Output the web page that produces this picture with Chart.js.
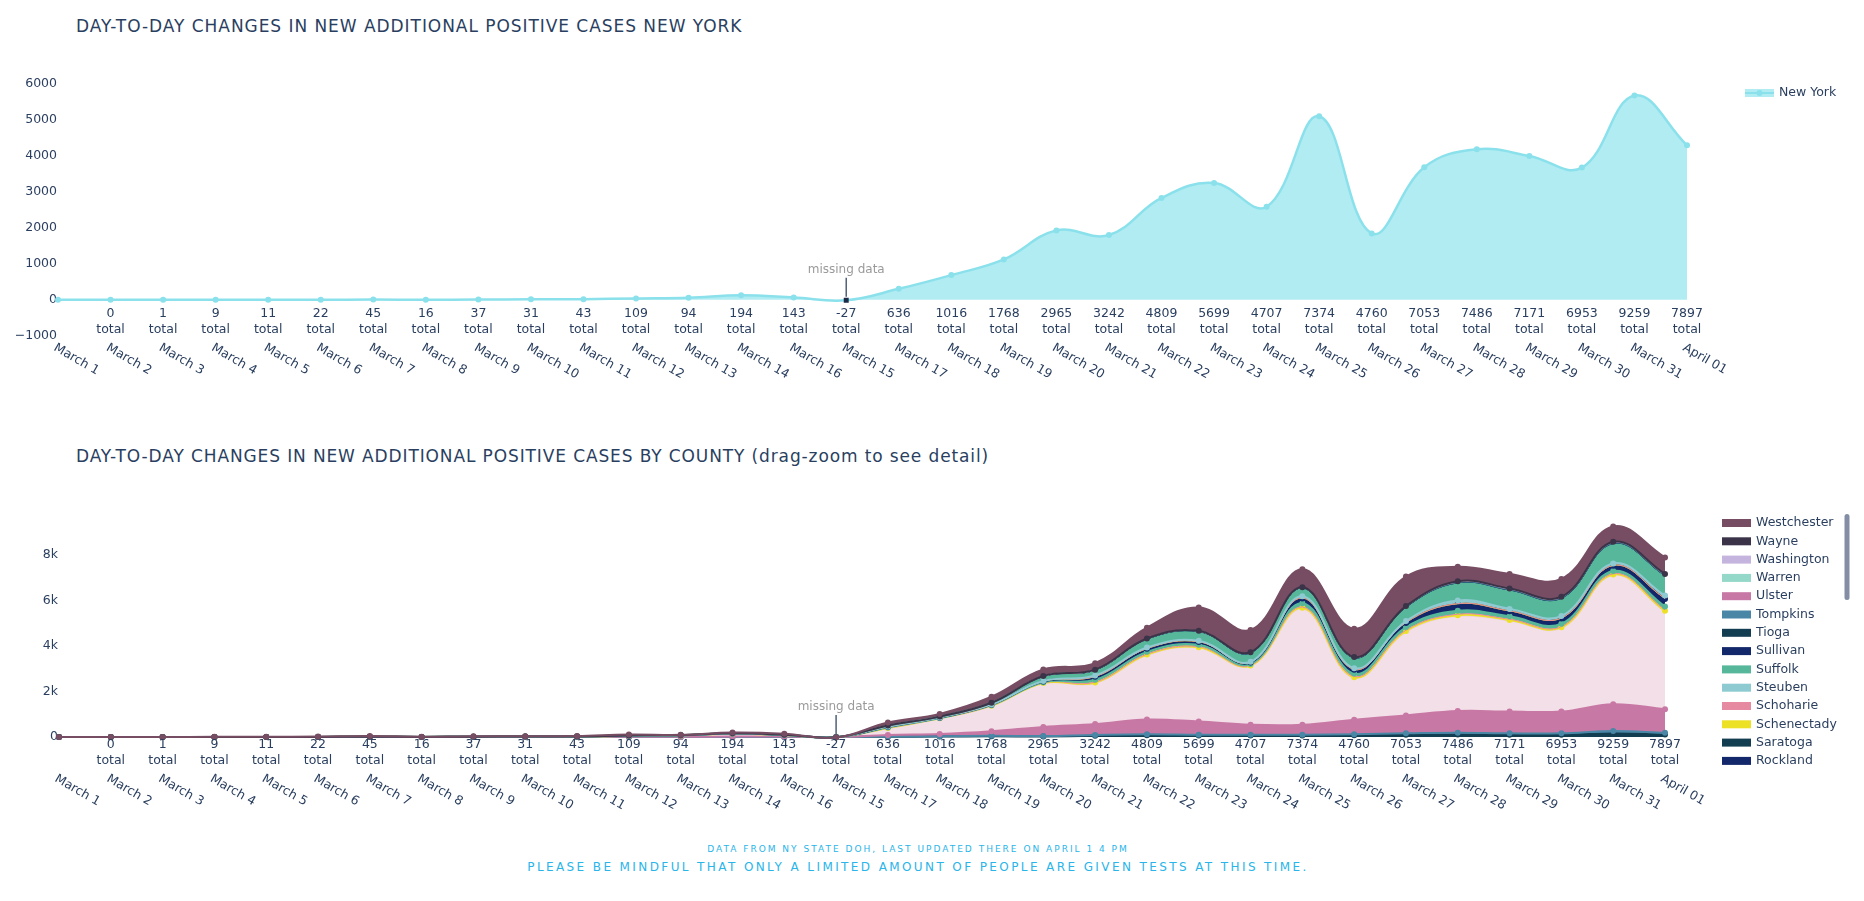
<!DOCTYPE html>
<html>
<head>
<meta charset="utf-8">
<title>NY positive cases</title>
<script src="https://cdn.jsdelivr.net/npm/chart.js@4.4.1/dist/chart.umd.min.js"></script>
<style>
  body { margin: 0; background: #fff; width: 1864px; height: 901px; overflow: hidden; position: relative;
         font-family: "DejaVu Sans", Verdana, sans-serif; }
  .box { position: absolute; left: 0; width: 1864px; }
  .title { position: absolute; left: 76px; font-size: 17px; line-height: 20px; color: #2a3f5f;
           letter-spacing: 0.95px; white-space: nowrap; }
  .note { position: absolute; left: 0; width: 1836px; text-align: center; color: #29b5e9; white-space: nowrap; }
</style>
</head>
<body>
<div class="title" style="top:16px">DAY-TO-DAY CHANGES IN NEW ADDITIONAL POSITIVE CASES NEW YORK</div>
<div class="box" style="top:0;height:400px"><canvas id="nyChart"></canvas></div>
<div class="title" style="top:446px;letter-spacing:0.88px">DAY-TO-DAY CHANGES IN NEW ADDITIONAL POSITIVE CASES BY COUNTY (drag-zoom to see detail)</div>
<div class="box" style="top:420px;height:420px"><canvas id="countyChart"></canvas></div>
<div class="note" style="top:844px;font-size:9px;line-height:11px;letter-spacing:2px">DATA FROM NY STATE DOH, LAST UPDATED THERE ON APRIL 1 4 PM</div>
<div class="note" style="top:860px;font-size:12px;line-height:15px;letter-spacing:2.4px">PLEASE BE MINDFUL THAT ONLY A LIMITED AMOUNT OF PEOPLE ARE GIVEN TESTS AT THIS TIME.</div>

<script>
'use strict';

var days = ['March 1', 'March 2', 'March 3', 'March 4', 'March 5', 'March 6', 'March 7', 'March 8',
            'March 9', 'March 10', 'March 11', 'March 12', 'March 13', 'March 14', 'March 16', 'March 15',
            'March 17', 'March 18', 'March 19', 'March 20', 'March 21', 'March 22', 'March 23', 'March 24',
            'March 25', 'March 26', 'March 27', 'March 28', 'March 29', 'March 30', 'March 31', 'April 01'];
// state wide totals printed under each day (none under the first one)
var totals = [null, 0, 1, 9, 11, 22, 45, 16, 37, 31, 43, 109, 94, 194, 143, -27,
              636, 1016, 1768, 2965, 3242, 4809, 5699, 4707, 7374, 4760, 7053, 7486, 7171, 6953, 9259, 7897];
var missingDay = 'March 15';

var nyTicks = [-1000, 0, 1000, 2000, 3000, 4000, 5000, 6000];
var countyTicks = [0, 2000, 4000, 6000, 8000];

var newYork = [1, 0, 1, 0, 1, 2, 7, 1, 8, 16, 17, 40, 60, 125, 65, -12,
               306, 688, 1123, 1931, 1802, 2833, 3250, 2590, 5106, 1847, 3686, 4187, 4002, 3677, 5682, 4298];

var erie        = [0, 0, 0, 0, 0, 0, 0, 0, 0, 0, 0, 2, 1, 2, 2, 0, 12, 18, 30, 24, 54, 72, 60, 60, 60, 72, 96, 114, 96, 96, 156, 114];
var monroe      = [0, 0, 0, 0, 0, 0, 0, 0, 0, 0, 0, 1, 1, 2, 2, 0, 8, 12, 20, 16, 36, 48, 40, 40, 40, 48, 64, 76, 64, 64, 104, 76];
var nassau      = [0, 0, 0, 1, 1, 2, 3, 2, 3, 2, 2, 12, 8, 14, 14, 0, 70, 100, 200, 400, 480, 650, 580, 440, 440, 640, 790, 950, 960, 960, 1180, 1030];
var niagara     = [0, 0, 0, 0, 0, 0, 0, 0, 0, 0, 0, 0, 0, 0, 1, 0, 3, 2, 4, 5, 20, 20, 18, 11, 32, 25, 28, 30, 25, 25, 25, 30];
var onondaga    = [0, 0, 0, 0, 0, 0, 0, 0, 0, 0, 0, 0, 0, 1, 1, 0, 4, 3, 4, 6, 23, 23, 21, 13, 38, 29, 32, 40, 30, 30, 30, 40];
var orange      = [0, 0, 0, 0, 0, 0, 0, 0, 1, 0, 1, 2, 2, 4, 4, 0, 18, 12, 18, 27, 99, 99, 90, 54, 162, 126, 138, 150, 130, 130, 120, 150];
var rockland    = [0, 0, 0, 0, 0, 0, 1, 0, 1, 1, 2, 3, 2, 4, 5, 0, 24, 16, 24, 36, 132, 132, 120, 72, 216, 168, 184, 290, 220, 230, 230, 330];
var saratoga    = [0, 0, 0, 0, 0, 0, 0, 0, 1, 0, 1, 1, 1, 1, 0, 0, 2, 1, 2, 3, 7, 7, 6, 4, 11, 8, 9, 12, 9, 9, 9, 12];
var schenectady = [0, 0, 0, 0, 0, 0, 0, 0, 0, 0, 0, 1, 1, 0, 1, 0, 1, 1, 1, 2, 7, 7, 6, 4, 11, 8, 9, 12, 9, 9, 9, 12];
var schoharie   = [0, 0, 0, 0, 0, 0, 0, 0, 0, 0, 0, 0, 0, 0, 0, 0, 0, 0, 0, 0, 1, 1, 1, 0, 2, 1, 2, 2, 2, 2, 2, 2];
var steuben     = [0, 0, 0, 0, 0, 0, 0, 0, 0, 0, 0, 0, 0, 0, 0, 0, 8, 5, 7, 11, 41, 41, 38, 22, 68, 55, 58, 144, 85, 85, 85, 124];
var suffolk     = [0, 0, 0, 0, 0, 0, 0, 1, 1, 1, 2, 6, 4, 8, 7, 0, 44, 33, 66, 194, 229, 352, 387, 370, 352, 431, 581, 739, 792, 748, 836, 836];
var sullivan    = [0, 0, 0, 0, 0, 0, 0, 0, 0, 0, 0, 0, 0, 0, 0, 0, 2, 2, 3, 9, 10, 16, 18, 17, 16, 20, 26, 34, 36, 34, 38, 38];
var tioga       = [0, 0, 0, 0, 0, 0, 0, 0, 0, 0, 0, 0, 0, 0, 0, 0, 0, 0, 0, 1, 1, 2, 2, 2, 2, 2, 3, 4, 4, 4, 5, 5];
var tompkins    = [0, 0, 0, 0, 0, 0, 0, 0, 0, 0, 0, 0, 0, 0, 0, 0, 1, 1, 1, 2, 3, 4, 4, 4, 4, 5, 7, 8, 9, 9, 10, 10];
var ulster      = [0, 0, 0, 0, 0, 0, 0, 0, 0, 1, 0, 1, 0, 1, 1, 0, 2, 1, 3, 9, 11, 16, 18, 17, 16, 20, 26, 34, 36, 34, 38, 38];
var warren      = [0, 0, 0, 0, 0, 0, 0, 0, 0, 0, 0, 0, 0, 0, 0, 0, 0, 0, 1, 1, 1, 2, 2, 2, 2, 2, 3, 4, 5, 4, 5, 5];
var washington  = [0, 0, 0, 0, 0, 0, 0, 0, 0, 0, 0, 0, 0, 0, 0, 0, 0, 0, 0, 1, 1, 2, 2, 2, 2, 2, 3, 3, 4, 3, 4, 4];
var wayne       = [0, 0, 0, 0, 0, 0, 0, 0, 0, 0, 0, 0, 0, 0, 0, 0, 1, 1, 1, 3, 4, 6, 7, 6, 6, 8, 11, 14, 14, 14, 14, 14];
var westchester = [0, 0, 0, 8, 9, 18, 34, 12, 22, 10, 18, 40, 14, 32, 40, -15, 130, 120, 260, 284, 280, 476, 1029, 977, 788, 1243, 1297, 639, 639, 786, 677, 729];

// stacking order, bottom first
var countySeries = [
  ['Erie', erie], ['Monroe', monroe], ['Nassau', nassau], ['New York', newYork], ['Niagara', niagara],
  ['Onondaga', onondaga], ['Orange', orange], ['Rockland', rockland], ['Saratoga', saratoga],
  ['Schenectady', schenectady], ['Schoharie', schoharie], ['Steuben', steuben], ['Suffolk', suffolk],
  ['Sullivan', sullivan], ['Tioga', tioga], ['Tompkins', tompkins], ['Ulster', ulster], ['Warren', warren],
  ['Washington', washington], ['Wayne', wayne], ['Westchester', westchester]
];

var countyColor = {
  'Erie': '#133e52', 'Monroe': '#4a87a6', 'Nassau': '#c878a4', 'New York': '#f3dfe8', 'Niagara': '#ede126',
  'Onondaga': '#e58aa0', 'Orange': '#57b79a', 'Rockland': '#13286b', 'Saratoga': '#133e52',
  'Schenectady': '#ede126', 'Schoharie': '#e58aa0', 'Steuben': '#8ecad1', 'Suffolk': '#57b79a',
  'Sullivan': '#13286b', 'Tioga': '#133e52', 'Tompkins': '#4a87a6', 'Ulster': '#c878a4', 'Warren': '#93d8c8',
  'Washington': '#c4b4de', 'Wayne': '#3b3348', 'Westchester': '#774d63'
};
var thinLines = ['Onondaga', 'Saratoga', 'Schenectady', 'Schoharie', 'Sullivan', 'Tioga', 'Tompkins',
                 'Ulster', 'Warren', 'Washington'];
var noDots = thinLines.concat(['New York', 'Suffolk']);
var legendRows = 14;

var ink = '#2a3f5f';
var fontFamily = '"DejaVu Sans", Verdana, sans-serif';
var tickSize = 12.5;
var tickFont = tickSize + 'px ' + fontFamily;
var nyLine = '#8be1eb', nyFill = '#b1ecf3';

function plain(v) { return v < 0 ? '\u2212' + Math.abs(v) : String(v); }
function kilo(v) { return v === 0 ? '0' : (v / 1000) + 'k'; }

// day names, totals and the missing data note, placed with the chart's own scales
function axisText(o) {
  return {
    id: 'axisText',
    afterDraw: function (chart) {
      var ctx = chart.ctx, xs = chart.scales.x, ys = chart.scales.y;
      var zero = ys.getPixelForValue(0);
      ctx.save();
      ctx.font = tickFont;
      ctx.fillStyle = ink;
      ctx.textBaseline = 'middle';
      days.forEach(function (d, i) {
        var x = xs.getPixelForValue(i);
        if (totals[i] !== null) {
          ctx.textAlign = 'center';
          ctx.fillText(String(totals[i]), x, zero + o.totalY);
          ctx.fillText('total', x, zero + o.totalY + 15.5);
        }
        ctx.save();
        ctx.translate(x - 3.3, o.dateY);
        ctx.rotate(Math.PI / 6);
        ctx.textAlign = 'left';
        ctx.fillText(d, 0, 0);
        ctx.restore();
      });
      var mx = xs.getPixelForValue(days.indexOf(missingDay));
      ctx.strokeStyle = '#506178';
      ctx.lineWidth = 1.5;
      ctx.beginPath();
      ctx.moveTo(mx, zero - 22);
      ctx.lineTo(mx, zero - 3);
      ctx.stroke();
      ctx.fillStyle = '#9a9a9a';
      ctx.textAlign = 'center';
      ctx.font = '12px ' + fontFamily;
      ctx.fillText('missing data', mx, zero - 30);
      ctx.restore();
    }
  };
}

function sideLegend(o) {
  return {
    id: 'sideLegend',
    afterDraw: function (chart) {
      var ctx = chart.ctx;
      var items = chart.data.datasets.slice().sort(function (a, b) {
        return a.label < b.label ? 1 : -1;
      }).slice(0, o.rows);
      ctx.save();
      ctx.font = tickFont;
      ctx.textBaseline = 'middle';
      ctx.textAlign = 'left';
      items.forEach(function (ds, k) {
        var cy = o.y + k * o.step;
        var line = ds.borderColor;
        ctx.fillStyle = ds.backgroundColor;
        ctx.fillRect(o.x, cy - 4, 29, 8);
        ctx.strokeStyle = line;
        ctx.lineWidth = 2;
        ctx.beginPath();
        ctx.moveTo(o.x, cy);
        ctx.lineTo(o.x + 29, cy);
        ctx.stroke();
        ctx.fillStyle = line;
        ctx.beginPath();
        ctx.arc(o.x + 14.5, cy, 3, 0, 2 * Math.PI);
        ctx.fill();
        ctx.fillStyle = ink;
        ctx.fillText(ds.label, o.x + 34, cy);
      });
      if (o.scroll) {
        var s = o.scroll;
        ctx.fillStyle = '#838ea6';
        ctx.beginPath();
        ctx.moveTo(s.x, s.y0 + 2.5);
        ctx.arc(s.x + 2.5, s.y0 + 2.5, 2.5, Math.PI, 2 * Math.PI);
        ctx.lineTo(s.x + 5, s.y1 - 2.5);
        ctx.arc(s.x + 2.5, s.y1 - 2.5, 2.5, 0, Math.PI);
        ctx.closePath();
        ctx.fill();
      }
      ctx.restore();
    }
  };
}

// fills go first (filler drawTime), then lines bottom to top so the upper series sit on top
var linesUpward = {
  id: 'linesUpward',
  beforeDatasetsDraw: function (chart) {
    var ctx = chart.ctx, a = chart.chartArea;
    chart.getSortedVisibleDatasetMetas().forEach(function (meta) {
      ctx.save();
      ctx.beginPath();
      ctx.rect(a.left - 4, a.top - 6, a.width + 8, a.height + 12);
      ctx.clip();
      meta.controller.draw();
      ctx.restore();
    });
    return false;
  }
};

function yAxis(range, ticks, fmt, width, stacked) {
  return {
    min: range[0], max: range[1], stacked: stacked,
    grid: { display: false, drawTicks: false },
    border: { display: false },
    ticks: { font: { family: fontFamily, size: tickSize }, color: ink, padding: 1, callback: fmt },
    afterBuildTicks: function (s) { s.ticks = ticks.map(function (v) { return { value: v }; }); },
    afterFit: function (s) { s.width = width; }
  };
}

var missingIdx = days.indexOf(missingDay);

new Chart(document.getElementById('nyChart'), {
  type: 'line',
  data: {
    labels: days,
    datasets: [{
      label: 'New York',
      data: newYork,
      borderColor: nyLine,
      backgroundColor: nyFill,
      fill: 'origin',
      tension: 0.4,
      borderWidth: 2.5,
      clip: 5,
      pointBorderWidth: 0,
      pointStyle: days.map(function (d, i) { return i === missingIdx ? 'rect' : 'circle'; }),
      pointBackgroundColor: days.map(function (d, i) { return i === missingIdx ? '#1c2a48' : nyLine; }),
      pointRadius: days.map(function (d, i) { return i === missingIdx ? 3.5 : 3; })
    }]
  },
  options: {
    responsive: true, maintainAspectRatio: false, animation: false,
    layout: { padding: { top: 83, bottom: 64.2, left: 0, right: 177 } },
    interaction: { mode: 'index', intersect: false },
    plugins: { legend: { display: false } },
    scales: {
      x: { display: false, offset: false },
      y: yAxis([-1000, 6030], nyTicks, plain, 58, false)
    }
  },
  plugins: [axisText({ totalY: 14.3, dateY: 347 }), sideLegend({ x: 1745, y: 93, step: 18.3, rows: 1 })]
});

new Chart(document.getElementById('countyChart'), {
  type: 'line',
  data: {
    labels: days,
    datasets: countySeries.map(function (s, i) {
      var name = s[0], c = countyColor[name];
      var line = name === 'New York' ? '#eed2de' : c;
      return {
        label: name,
        data: s[1],
        borderColor: line,
        backgroundColor: c,
        fill: i === 0 ? 'origin' : '-1',
        tension: 0.4,
        borderWidth: thinLines.indexOf(name) >= 0 ? 1 : 2,
        pointRadius: noDots.indexOf(name) >= 0 ? 0 : 3,
        pointBorderWidth: 0,
        pointBackgroundColor: line
      };
    })
  },
  options: {
    responsive: true, maintainAspectRatio: false, animation: false,
    layout: { padding: { top: 93, bottom: 99.6, left: 0, right: 199 } },
    interaction: { mode: 'index', intersect: false },
    plugins: { legend: { display: false }, filler: { drawTime: 'beforeDatasetsDraw' } },
    scales: {
      x: { display: false, offset: false },
      y: yAxis([-150, 9850], countyTicks, kilo, 59, 'single')
    }
  },
  plugins: [linesUpward, axisText({ totalY: 8, dateY: 358 }),
            sideLegend({ x: 1722, y: 103, step: 18.3, rows: legendRows, scroll: { x: 1844.5, y0: 94, y1: 180 } })]
});
</script>
</body>
</html>
